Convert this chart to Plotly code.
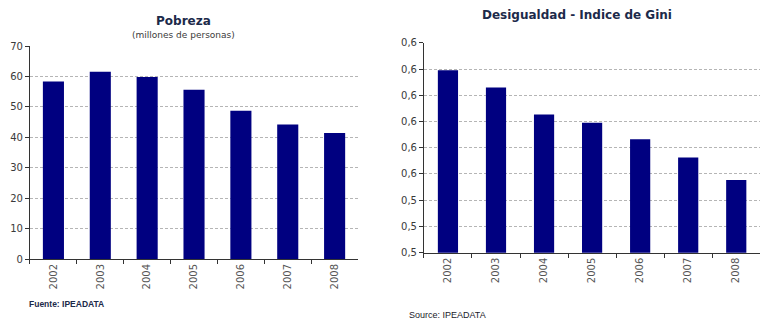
import plotly.graph_objects as go

years = ["2002", "2003", "2004", "2005", "2006", "2007", "2008"]
pobreza = [58.3, 61.5, 59.8, 55.6, 48.7, 44.2, 41.4]
gini = [0.5895, 0.583, 0.5727, 0.5695, 0.5632, 0.5563, 0.5477]

pob_ticks = [0, 10, 20, 30, 40, 50, 60, 70]
gini_ticks = [0.52, 0.53, 0.54, 0.55, 0.56, 0.57, 0.58, 0.59, 0.60]
gini_ticktext = ["0,5", "0,5", "0,5", "0,6", "0,6", "0,6", "0,6", "0,6", "0,6"]

FONT = "DejaVu Sans"
SRC_FONT = "Liberation Sans"
BAR = "#000080"
TXT = "#3a3a3a"
TITLE = "#1c2a4a"

fig = go.Figure()
fig.add_trace(go.Bar(x=years, y=pobreza, marker=dict(color=BAR, line=dict(width=0)),
                     width=0.45, xaxis="x", yaxis="y", showlegend=False))
fig.add_trace(go.Bar(x=years, y=gini, marker=dict(color=BAR, line=dict(width=0)),
                     width=0.42, xaxis="x2", yaxis="y2", showlegend=False))

xcommon = dict(type="category", tickangle=-90, ticks="outside", tickson="boundaries",
               ticklen=4, tickcolor="#333", showline=True, linecolor="#333", linewidth=1,
               showgrid=False, automargin=False, tickfont=dict(family=FONT, size=10, color="#555"))
ycommon = dict(ticks="outside", ticklen=4, tickcolor="#333", showline=True, linecolor="#333",
               linewidth=1, showgrid=True, gridcolor="#b5b5b5", griddash="3px,2px", gridwidth=1,
               zeroline=False, automargin=False, tickfont=dict(family=FONT, size=10, color=TXT))

fig.update_layout(
    template="none",
    width=775, height=324, margin=dict(l=0, r=0, t=0, b=0, pad=0),
    paper_bgcolor="white", plot_bgcolor="white", bargap=0.5,
    xaxis=dict(domain=[0.0387, 0.462], anchor="y", **xcommon),
    yaxis=dict(domain=[0.2006, 0.858], anchor="x", range=[0, 70], tickvals=pob_ticks, **ycommon),
    xaxis2=dict(domain=[0.547, 0.981], anchor="y2", **xcommon),
    yaxis2=dict(domain=[0.22, 0.868], anchor="x2", range=[0.52, 0.60], tickvals=gini_ticks,
                ticktext=gini_ticktext, **ycommon),
    annotations=[
        dict(text="<b>Pobreza</b>", x=183 / 775, y=0.935, xref="paper", yref="paper",
             xanchor="center", yanchor="middle",
             showarrow=False, font=dict(family=FONT, size=12, color=TITLE)),
        dict(text="(millones de personas)", x=183 / 775, y=0.892, xref="paper", yref="paper",
             xanchor="center", yanchor="middle",
             showarrow=False, font=dict(family=FONT, size=9, color=TXT)),
        dict(text="<b>Desigualdad - Indice de Gini</b>", x=577 / 775, y=0.954, xref="paper",
             yref="paper", xanchor="center", yanchor="middle",
             showarrow=False, font=dict(family=FONT, size=12, color=TITLE)),
        dict(text="<b>Fuente: IPEADATA</b>", x=27 / 775, y=0.062, xref="paper", yref="paper",
             xanchor="left", yanchor="middle", showarrow=False,
             font=dict(family=SRC_FONT, size=8.5, color=TITLE)),
        dict(text="Source: IPEADATA", x=407 / 775, y=0.028, xref="paper", yref="paper",
             xanchor="left", yanchor="middle", showarrow=False,
             font=dict(family=SRC_FONT, size=9, color="#1a1a2a")),
    ],
)

fig.write_html("out.html")
